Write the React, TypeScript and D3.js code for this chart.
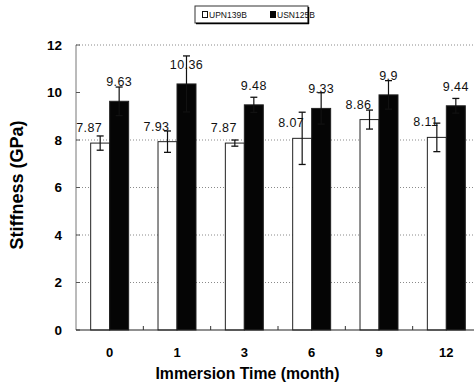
import React from "react";
import * as d3 from "d3";

const categories = ["0", "1", "3", "6", "9", "12"];
const seriesNames = ["UPN139B", "USN125B"];
const upnValues = [7.87, 7.93, 7.87, 8.07, 8.86, 8.11];
const usnValues = [9.63, 10.36, 9.48, 9.33, 9.9, 9.44];
const upnErrors = [0.3, 0.45, 0.13, 1.1, 0.4, 0.6];
const usnErrors = [0.6, 1.18, 0.32, 0.66, 0.6, 0.31];
const yTicks = [0, 2, 4, 6, 8, 10, 12];
const gridTicks = [2, 4, 6, 8, 12];

const W = 474;
const H = 391;
const left = 76;
const right = 480;
const y0 = 330;
const yTop = 45;

export default function App() {
  const x = d3
    .scaleBand<string>()
    .domain(categories)
    .range([left, right])
    .paddingInner(0.436)
    .paddingOuter(0.218);
  const sub = d3
    .scaleBand<string>()
    .domain(seriesNames)
    .range([0, x.bandwidth()]);
  const y = d3.scaleLinear().domain([0, 12]).range([y0, yTop]);

  const series = [
    { name: seriesNames[0], values: upnValues, errors: upnErrors, fill: "#ffffff", labelDx: -11, labelDy: -11 },
    { name: seriesNames[1], values: usnValues, errors: usnErrors, fill: "#050505", labelDx: 0, labelDy: -15 },
  ];

  const boundaries = categories.slice(1).map((c) => (x(c) as number) - (x.step() - x.bandwidth()) / 2);

  return (
    <svg
      width={W}
      height={H}
      style={{ position: "absolute", left: 0, top: 0, background: "#fff" }}
      fontFamily="Arial, 'Liberation Sans', sans-serif"
    >
      {/* gridlines */}
      {gridTicks.map((t) => (
        <line
          key={"g" + t}
          x1={left}
          x2={W}
          y1={y(t)}
          y2={y(t)}
          stroke="#8a8a8a"
          strokeWidth={1}
          strokeDasharray="1,2"
        />
      ))}
      {/* y axis */}
      <line x1={left} x2={left} y1={yTop} y2={y0} stroke="#777" strokeWidth={1} />
      {yTicks.map((t) => (
        <g key={"yt" + t}>
          <line x1={left} x2={left + 4} y1={y(t)} y2={y(t)} stroke="#555" />
          <text
            x={62}
            y={y(t)}
            dy="0.36em"
            textAnchor="end"
            fontWeight="bold"
            fontSize={13.5}
            fill="#000"
          >
            {t}
          </text>
        </g>
      ))}
      {/* bars */}
      {categories.map((c, i) => (
        <g key={"c" + c}>
          {series.map((s) => {
            const bx = (x(c) as number) + (sub(s.name) as number);
            const bw = sub.bandwidth();
            const v = s.values[i];
            const e = s.errors[i];
            const cx = bx + bw / 2;
            return (
              <g key={s.name}>
                <rect
                  x={bx}
                  y={y(v)}
                  width={bw}
                  height={y(0) - y(v)}
                  fill={s.fill}
                  stroke="#222"
                  strokeWidth={1}
                />
                <line x1={cx} x2={cx} y1={y(v + e)} y2={y(v - e)} stroke="#111" strokeWidth={1.2} />
                <line x1={cx - 3.5} x2={cx + 3.5} y1={y(v + e)} y2={y(v + e)} stroke="#111" strokeWidth={1.3} />
                <line x1={cx - 3.5} x2={cx + 3.5} y1={y(v - e)} y2={y(v - e)} stroke="#111" strokeWidth={1.3} />
                <text
                  x={cx + s.labelDx}
                  y={y(v) + s.labelDy}
                  textAnchor="middle"
                  fontSize={12.5}
                  fill="#111"
                  letterSpacing={0.4}
                >
                  {v}
                </text>
              </g>
            );
          })}
          <text
            x={(x(c) as number) + x.bandwidth() / 2}
            y={357}
            textAnchor="middle"
            fontWeight="bold"
            fontSize={13}
            fill="#000"
          >
            {c}
          </text>
        </g>
      ))}
      {/* x axis */}
      <line x1={left} x2={W} y1={y0} y2={y0} stroke="#222" strokeWidth={1.2} />
      {boundaries.map((bx, i) => (
        <line key={"xt" + i} x1={bx} x2={bx} y1={y0} y2={y0 - 4} stroke="#333" />
      ))}
      {/* axis titles */}
      <text x={247.5} y={379} textAnchor="middle" fontWeight="bold" fontSize={15.8} fill="#000">
        Immersion Time (month)
      </text>
      <text
        transform={`translate(23,185) rotate(-90)`}
        textAnchor="middle"
        fontWeight="bold"
        fontSize={18}
        fill="#000"
      >
        Stiffness (GPa)
      </text>
      {/* legend */}
      <g>
        <rect x={195} y={6} width={113} height={17} fill="#fff" stroke="#333" strokeWidth={1} />
        <line x1={196} x2={309} y1={23.5} y2={23.5} stroke="#000" strokeWidth={1.5} />
        <line x1={308.5} x2={308.5} y1={7} y2={24} stroke="#000" strokeWidth={1.5} />
        <rect x={202.5} y={11.5} width={5} height={6} fill="#fff" stroke="#111" />
        <text x={209} y={18} fontSize={8.5} fill="#111">
          {seriesNames[0]}
        </text>
        <rect x={270} y={11} width={6} height={7} fill="#050505" />
        <text x={277} y={18} fontSize={8.5} fill="#111">
          {seriesNames[1]}
        </text>
      </g>
    </svg>
  );
}
